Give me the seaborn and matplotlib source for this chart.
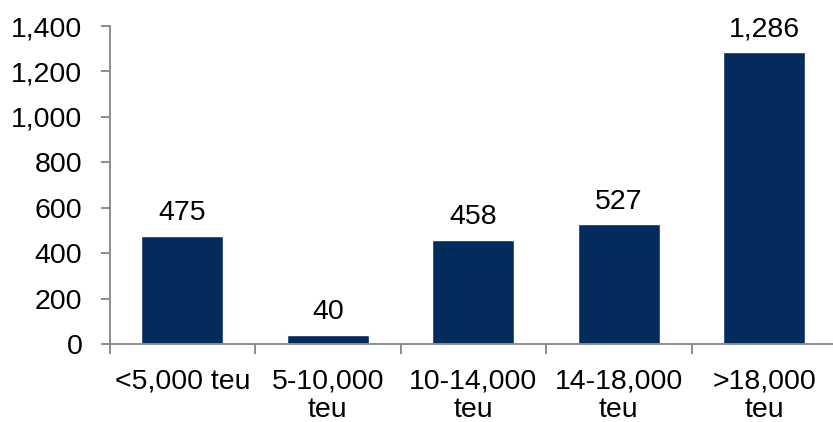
import matplotlib
matplotlib.use("Agg")
import matplotlib.pyplot as plt
import matplotlib.ticker as mticker
import seaborn as sns
import pandas as pd
import numpy as np

categories = ["<5,000 teu", "5-10,000\nteu", "10-14,000\nteu", "14-18,000\nteu", ">18,000\nteu"]
values = [475, 40, 458, 527, 1286]

sns.set_theme(style="white")
plt.rcParams["font.family"] = ["Liberation Sans", "DejaVu Sans"]

FS = 20.5
df = pd.DataFrame({"category": categories, "value": values})

fig = plt.figure(figsize=(8.33, 4.22), dpi=100)
ax = fig.add_axes([109.5 / 833, (422 - 344) / 422, (837 - 109.5) / 833, (344 - 26) / 422])

sns.barplot(data=df, x="category", y="value", color="#032B5B", width=0.565,
            saturation=1, ax=ax)

ax.set_ylim(0, 1400)
ax.set_xlim(-0.5, len(categories) - 0.5)
ax.yaxis.set_major_locator(mticker.MultipleLocator(200))
ax.yaxis.set_major_formatter(mticker.FuncFormatter(lambda v, p: f"{int(v):,}"))

ax.set_xlabel("")
ax.set_ylabel("")

for spine in ["top", "right"]:
    ax.spines[spine].set_visible(False)
for spine in ["left", "bottom"]:
    ax.spines[spine].set_color("#8c8c8c")
    ax.spines[spine].set_linewidth(1.4)

ax.tick_params(axis="y", which="major", left=True, length=6.5, width=1.4,
               color="#8c8c8c", labelsize=FS, labelcolor="black", pad=13)
ax.tick_params(axis="x", which="major", bottom=False, length=0,
               labelsize=FS, labelcolor="black", pad=18)
ax.set_xticks(np.arange(-0.5, len(categories), 1.0), minor=True)
ax.tick_params(axis="x", which="minor", bottom=True, length=7, width=1.4,
               color="#8c8c8c")
for lbl in ax.get_xticklabels():
    lbl.set_linespacing(1.08)

for i, v in enumerate(values):
    ax.annotate(f"{v:,}", (i, v), xytext=(0, 7), textcoords="offset points",
                ha="center", va="bottom", fontsize=FS, color="black")

fig.savefig("out.png", dpi=100)
